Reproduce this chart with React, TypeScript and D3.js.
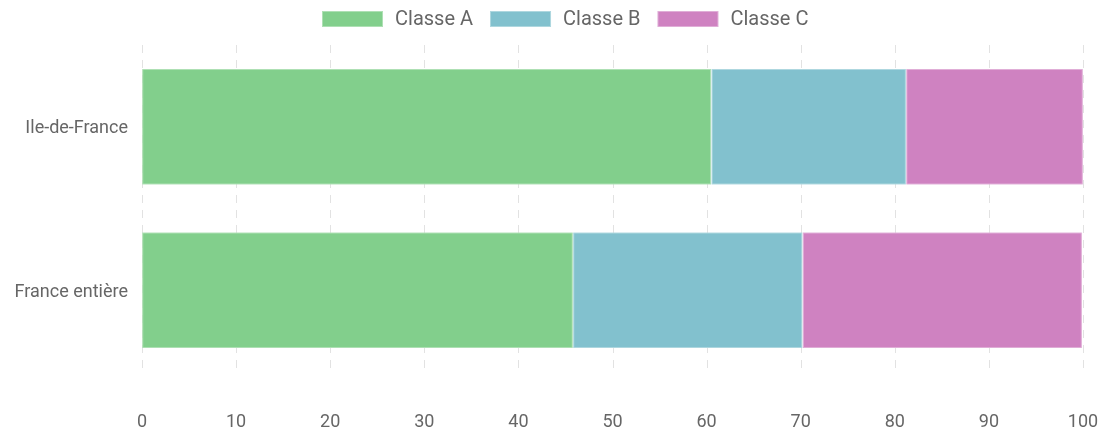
import React, { useEffect, useRef } from 'react';
import * as d3 from 'd3';

const categories = ['Ile-de-France', 'France entière'];
const seriesNames = ['Classe A', 'Classe B', 'Classe C'];
const classeA = [60.5, 45.8];
const classeB = [20.7, 24.4];
const classeC = [18.8, 29.7];
const xTicks = [0, 10, 20, 30, 40, 50, 60, 70, 80, 90, 100];
const colors = ['#82cf8c', '#82c1ce', '#cf82c1'];

const width = 1104;
const height = 432;
const font = 'Roboto, "Helvetica Neue", Arial, sans-serif';

function Chart() {
  const root = useRef<SVGSVGElement>(null);

  useEffect(() => {
    const svg = d3.select(root.current);
    svg.selectAll('*').remove();

    const rows = categories.map((c, i) => ({
      name: c,
      'Classe A': classeA[i],
      'Classe B': classeB[i],
      'Classe C': classeC[i],
    }));
    const stacked = d3.stack<any>().keys(seriesNames)(rows);

    const x = d3.scaleLinear().domain([0, 100]).range([142, 1083]);
    const y = d3.scaleBand().domain(categories).range([45, 372]);
    const barH = y.bandwidth() * 0.7;

    // grid
    svg
      .append('g')
      .selectAll('line')
      .data(xTicks)
      .join('line')
      .attr('x1', d => Math.round(x(d)) + 0.5)
      .attr('x2', d => Math.round(x(d)) + 0.5)
      .attr('y1', 45)
      .attr('y2', 372)
      .attr('stroke', '#e2e2e2')
      .attr('stroke-width', 1)
      .attr('stroke-dasharray', '8,7');

    // bars
    stacked.forEach((s, si) => {
      const light = d3.interpolateRgb(colors[si], '#ffffff')(0.35);
      svg
        .append('g')
        .selectAll('rect')
        .data(s)
        .join('rect')
        .attr('x', d => x(d[0]) + 0.75)
        .attr('width', d => Math.max(0, x(d[1]) - x(d[0]) - 1.5))
        .attr('y', (d: any) => (y(d.data.name) as number) + (y.bandwidth() - barH) / 2)
        .attr('height', barH)
        .attr('fill', colors[si])
        .attr('stroke', light)
        .attr('stroke-width', 1);
    });

    // y labels
    svg
      .append('g')
      .selectAll('text')
      .data(categories)
      .join('text')
      .attr('x', 128)
      .attr('y', d => (y(d) as number) + y.bandwidth() / 2)
      .attr('dy', '0.35em')
      .attr('text-anchor', 'end')
      .attr('font-family', font)
      .attr('font-size', 18)
      .attr('fill', '#666')
      .text(d => d);

    // x tick labels
    svg
      .append('g')
      .selectAll('text')
      .data(xTicks)
      .join('text')
      .attr('x', d => x(d))
      .attr('y', 427)
      .attr('text-anchor', 'middle')
      .attr('font-family', font)
      .attr('font-size', 18)
      .attr('fill', '#666')
      .text(d => d);

    // legend
    const legend = svg.append('g');
    let lx = 322;
    seriesNames.forEach((name, i) => {
      legend
        .append('rect')
        .attr('x', lx + 0.5)
        .attr('y', 11.5)
        .attr('width', 60)
        .attr('height', 15)
        .attr('fill', colors[i])
        .attr('stroke', d3.interpolateRgb(colors[i], '#ffffff')(0.35));
      const t = legend
        .append('text')
        .attr('x', lx + 73)
        .attr('y', 25)
        .attr('font-family', font)
        .attr('font-size', 20)
        .attr('fill', '#666')
        .text(name);
      const w = (t.node() as SVGTextElement).getComputedTextLength();
      lx += 73 + w + 17;
    });
  }, []);

  return <svg ref={root} width={width} height={height} style={{ display: 'block' }} />;
}

export default function App() {
  return (
    <div style={{ position: 'fixed', left: 0, top: 0 }}>
      <Chart />
    </div>
  );
}
